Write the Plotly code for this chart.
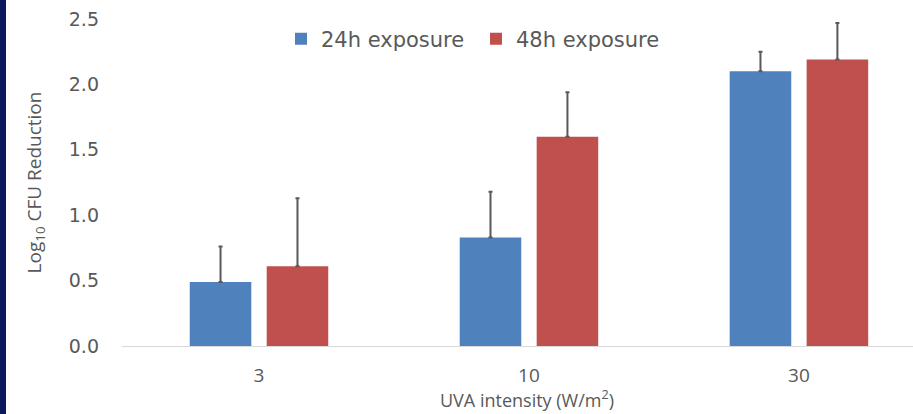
import plotly.graph_objects as go

categories = ["3", "10", "30"]
series_names = ["24h exposure", "48h exposure"]
values_24h = [0.49, 0.83, 2.10]
errors_24h = [0.27, 0.35, 0.15]
values_48h = [0.61, 1.60, 2.19]
errors_48h = [0.52, 0.34, 0.28]
y_ticks = [0.0, 0.5, 1.0, 1.5, 2.0, 2.5]
y_tick_labels = ["0.0", "0.5", "1.0", "1.5", "2.0", "2.5"]
x_title = "UVA intensity (W/m<sup>2</sup>)"
y_title = "Log<sub>10</sub> CFU Reduction"

colors = ["#4f81bd", "#c0504d"]
err_color = "#595959"
text_color = "#595959"

fig = go.Figure()
for name, vals, errs, col in [
    (series_names[0], values_24h, errors_24h, colors[0]),
    (series_names[1], values_48h, errors_48h, colors[1]),
]:
    fig.add_trace(go.Bar(
        x=categories, y=vals, name=name,
        marker=dict(color=col, line=dict(width=0)),
        error_y=dict(type="data", array=errs, symmetric=False,
                     arrayminus=[0] * len(errs),
                     color=err_color, thickness=2, width=2),
    ))

W, H = 913, 414
L, R, T, B = 122, 0, 19, 68
pw = W - L - R
ph = H - T - B

fig.update_layout(
    width=W, height=H,
    margin=dict(l=L, r=R, t=T, b=B, autoexpand=False),
    paper_bgcolor="white", plot_bgcolor="white",
    barmode="group", bargap=0.43, bargroupgap=0.2,
    font=dict(family="DejaVu Sans", color=text_color),
    showlegend=True,
    legend=dict(orientation="h", x=(281 - L) / pw, xanchor="left",
                y=(H - B - 39) / ph, yanchor="middle",
                font=dict(family="DejaVu Sans", size=21, color=text_color),
                entrywidth=150, entrywidthmode="pixels",
                itemwidth=30, bgcolor="rgba(0,0,0,0)"),
    xaxis=dict(
        type="category", range=[-0.5075, 2.4225], automargin=False,
        showgrid=False, showline=True, linecolor="#d9d9d9", linewidth=1,
        ticks="", tickfont=dict(family="Open Sans", size=19, color=text_color),
        ticklabelstandoff=12,
    ),
    yaxis=dict(
        range=[0, 2.5], tickvals=y_ticks, ticktext=y_tick_labels, automargin=False,
        showgrid=False, zeroline=False, showline=False, ticks="",
        tickfont=dict(family="DejaVu Sans", size=19, color=text_color),
        ticklabelstandoff=22,
        title=dict(text=y_title,
                   font=dict(family="Open Sans", size=19, color=text_color), standoff=22),
    ),
    annotations=[dict(text=x_title, xref="paper", yref="paper",
                      x=(527 - L) / pw, y=(H - B - 399) / ph,
                      xanchor="center", yanchor="middle", showarrow=False,
                      font=dict(family="Open Sans", size=18, color=text_color))],
    shapes=[dict(type="rect", xref="paper", yref="paper",
                 x0=-L / pw, x1=(6 - L) / pw, y0=-B / ph, y1=1 + T / ph,
                 fillcolor="#0b1a5a", line=dict(width=0), layer="above")],
)

fig.write_html("out.html", config={"displayModeBar": False},
               post_script="document.body.style.margin='0';document.body.style.overflow='hidden';")
